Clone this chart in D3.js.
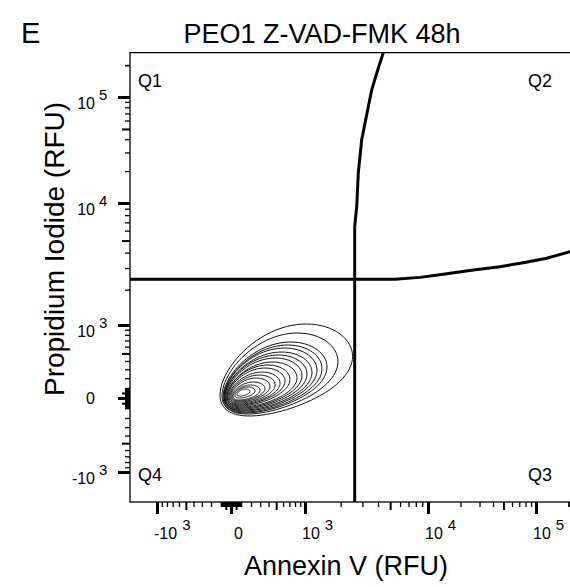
<!DOCTYPE html>
<html><head><meta charset="utf-8">
<script src="https://cdn.jsdelivr.net/npm/d3@7"></script>
<style>body{margin:0;background:#fff} svg{display:block;font-family:"Liberation Sans",Arial,Helvetica,sans-serif}</style>
</head><body><svg id="c" width="570" height="587"></svg>
<script>
// ---------------- data ----------------
const panelLetter = "E";
const chartTitle = "PEO1 Z-VAD-FMK 48h";
const xAxisTitle = "Annexin V (RFU)";
const yAxisTitle = "Propidium Iodide (RFU)";
const quadrantNames = ["Q1", "Q2", "Q3", "Q4"];

// labelled ticks (same on both axes)
const tickValues = [-1000, 0, 1000, 10000, 100000];
const tickBase   = ["-10", "0", "10", "10", "10"];
const tickExp    = ["3", "", "3", "4", "5"];
const axisMax = 262144;

// density contours, outermost -> innermost (extents in RFU)
const contourAnnexinMin = [-108, -88, -78, -68, -68, -59, -59, -49, -39, -39, -29, -20, -10, 0, 10, 20, 39, 59];
const contourAnnexinMax = [2500, 1902, 1543, 1401, 1271, 1151, 1041, 936, 837, 710, 629, 555, 485, 418, 356, 298, 243, 190];
const contourPILow      = [-179, -159, -148, -138, -128, -118, -108, -98, -88, -78, -68, -59, -49, -39, -29, -20, 0, 20];
const contourPIHigh     = [1021, 835, 674, 625, 579, 520, 478, 438, 387, 350, 314, 268, 235, 203, 161, 130, 110, 89];

// quadrant gate (RFU)
const vGateAnnexin = [2600, 2600, 2700, 2780, 2960, 3150, 3345, 3560, 3905, 4410];
const vGatePI      = [-3000, 6460, 9340, 19200, 39300, 56850, 81000, 116400, 167350, 262144];
const hGateAnnexin = [-3000, 5465, 8640, 13860, 26270, 46400, 76270, 125650, 206400, 262144];
const hGatePI      = [2430, 2430, 2520, 2670, 2890, 3080, 3315, 3600, 4070, 4360];

(function () {
// ---------------- scales ----------------
const W = 500;
const T = v => Math.asinh(v / W);
const xs = d3.scaleLinear().domain(tickValues.map(T)).range([157, 231, 305, 428, 536]);
const ys = d3.scaleLinear().domain(tickValues.map(T)).range([472, 398, 325, 203, 97]);
const X = v => xs(T(v)), Y = v => ys(T(v));

const pLeft = 130, pBottom = 502;
const pTop = Y(axisMax), pRight = X(axisMax);

const svg = d3.select("#c");

svg.append("defs").append("clipPath").attr("id", "plot")
  .append("rect").attr("x", pLeft).attr("y", pTop).attr("width", pRight - pLeft).attr("height", pBottom - pTop);

// ---------------- ticks ----------------
const major = [], medium = [], minor = [];
[10, 100, 1000, 10000, 100000].forEach(k => {
  for (let m = 1; m <= 9; m++) {
    [1, -1].forEach(s => {
      const v = s * m * k;
      if (m === 1 && k >= 1000) major.push(v);
      else if (m === 5) medium.push(v);
      else minor.push(v);
    });
  }
});
[1, 2, 3, 4, 5, 6, 7, 8, 9].forEach(m => { minor.push(m); minor.push(-m); });
major.push(0);
minor.push(200000);
const inX = v => X(v) >= pLeft - 0.5 && X(v) <= 570;
const inY = v => Y(v) <= pBottom + 0.5 && Y(v) >= pTop - 0.5;

function drawAxis(gen, vals, size, width) {
  const g = svg.append("g").call(gen.tickValues(vals.map(T)).tickSize(size).tickFormat(""));
  g.select(".domain").remove();
  g.selectAll(".tick line").attr("stroke", "#000").attr("stroke-width", width);
  return g;
}
[[major, 12, 3], [medium, 8, 2], [minor, 5, 1.3]].forEach(([vals, size, w]) => {
  drawAxis(d3.axisBottom(xs), vals.filter(inX), size, w).attr("transform", `translate(0,${pBottom})`);
  drawAxis(d3.axisLeft(ys), vals.filter(inY), size, w).attr("transform", `translate(${pLeft},0)`);
});

// tick labels
tickValues.forEach((v, i) => {
  const tx = svg.append("text").attr("x", X(v) + (v === 0 ? 3 : -3)).attr("y", 539)
    .attr("font-size", 16).attr("fill", "#000");
  tx.append("tspan").text(tickBase[i]);
  if (tickExp[i]) tx.append("tspan").attr("dx", 5).attr("dy", -9).attr("font-size", 15).text(tickExp[i]);
  if (tickExp[i]) {
    svg.append("text").attr("x", 95).attr("y", Y(v) + 12).attr("text-anchor", "end")
      .attr("font-size", 16).text(tickBase[i]);
    svg.append("text").attr("x", 99).attr("y", Y(v) + 3)
      .attr("font-size", 15).text(tickExp[i]);
  } else {
    svg.append("text").attr("x", 95).attr("y", Y(v) + 5.5).attr("text-anchor", "end")
      .attr("font-size", 16).text(tickBase[i]);
  }
});

// ---------------- contours ----------------
const plotG = svg.append("g").attr("clip-path", "url(#plot)");
const line = d3.line().curve(d3.curveLinearClosed);
contourAnnexinMin.forEach((_, i) => {
  const x0 = X(contourAnnexinMin[i]), x1 = X(contourAnnexinMax[i]);
  const yb = Y(contourPILow[i]), yt = Y(contourPIHigh[i]);
  const cx = (x0 + x1) / 2, cy = (yb + yt) / 2, hw = (x1 - x0) / 2, hh = (yb - yt) / 2;
  const pts = d3.range(0, 2 * Math.PI, Math.PI / 40).map(th => {
    const r = 0.42 - 0.15 * Math.cos(th - 0.6);
    return [cx + hw * Math.cos(th), cy - hh * Math.cos(th - Math.acos(r))];
  });
  plotG.append("path").attr("d", line(pts)).attr("fill", "none").attr("stroke", "#111").attr("stroke-width", 1);
});

// ---------------- gates ----------------
const gLine = d3.line().x(d => X(d[0])).y(d => Y(d[1]));
plotG.append("path").attr("d", gLine(vGateAnnexin.map((a, i) => [a, vGatePI[i]])))
  .attr("fill", "none").attr("stroke", "#000").attr("stroke-width", 3);
plotG.append("path").attr("d", gLine(hGateAnnexin.map((a, i) => [a, hGatePI[i]])))
  .attr("fill", "none").attr("stroke", "#000").attr("stroke-width", 3);

// frame
svg.append("rect").attr("x", pLeft).attr("y", pTop).attr("width", pRight - pLeft).attr("height", pBottom - pTop)
  .attr("fill", "none").attr("stroke", "#000").attr("stroke-width", 1.3);

// quadrant labels
const qs = 18;
svg.append("text").attr("x", 138).attr("y", 87).attr("font-size", qs).text(quadrantNames[0]);
svg.append("text").attr("x", 552).attr("y", 87).attr("font-size", qs).attr("text-anchor", "end").text(quadrantNames[1]);
svg.append("text").attr("x", 552).attr("y", 481).attr("font-size", qs).attr("text-anchor", "end").text(quadrantNames[2]);
svg.append("text").attr("x", 138).attr("y", 481).attr("font-size", qs).text(quadrantNames[3]);

// titles
svg.append("text").attr("x", 21).attr("y", 43).attr("font-size", 29).text(panelLetter);
svg.append("text").attr("x", 322).attr("y", 43).attr("font-size", 27).attr("text-anchor", "middle").text(chartTitle);
svg.append("text").attr("x", 346).attr("y", 575).attr("font-size", 27).attr("text-anchor", "middle").text(xAxisTitle);
svg.append("text").attr("transform", "translate(64,249) rotate(-90)").attr("font-size", 28)
  .attr("text-anchor", "middle").text(yAxisTitle);
})();
</script></body></html>
